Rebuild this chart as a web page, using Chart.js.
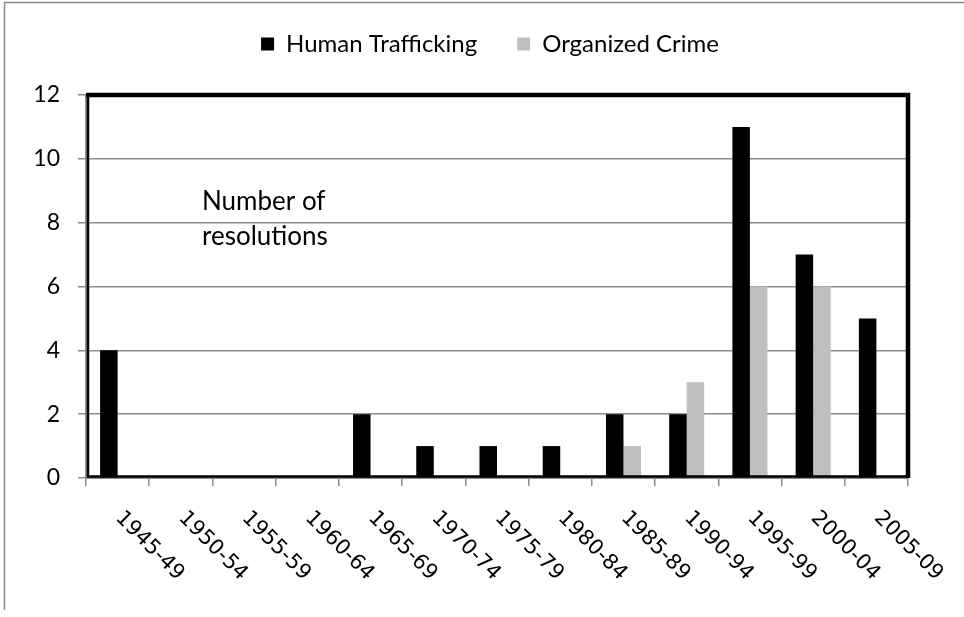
<!DOCTYPE html>
<html>
<head>
<meta charset="utf-8">
<script src="https://cdn.jsdelivr.net/npm/chart.js@4.4.1/dist/chart.umd.min.js"></script>
<style>
  html, body { margin:0; padding:0; background:#fff; }
  #wrap { width:964px; height:617px; }
</style>
</head>
<body>
<div id="wrap"><canvas id="chart" width="964" height="617"></canvas></div>
<script>
// ---- Data ----
const periods = ['1945-49','1950-54','1955-59','1960-64','1965-69','1970-74','1975-79','1980-84','1985-89','1990-94','1995-99','2000-04','2005-09'];
const humanTrafficking = [4,0,0,0,2,1,1,1,2,2,11,7,5];
const organizedCrime   = [0,0,0,0,0,0,0,0,1,3,6,6,0];
const yMin = 0, yMax = 12, yStep = 2;
const noteLines = ['Number of', 'resolutions'];

const GRID = '#8c8c8c';

// fixed legend height + nudge to the right, so it sits where the original has it
const legendPlace = {
    id:'legendPlace',
    beforeLayout(chart){
        const lg = chart.legend;
        if(!lg || lg._patched) return;
        const fit = lg.fit;
        lg.fit = function(){ fit.call(this); this.height = 103; };
        lg._patched = true;
    },
    afterLayout(chart){
        const lg = chart.legend;
        lg.left += 36; lg.right += 36;
    }
};

// frame, inner note, rotated category labels, outer border
const decor = {
    id:'decor',
    afterDraw(chart){
        const {ctx, chartArea:a, scales:{x}} = chart;
        ctx.save();

        // outer gray border (left + top)
        ctx.strokeStyle = '#8c8c8c'; ctx.lineWidth = 1.5;
        ctx.beginPath();
        ctx.moveTo(4.5, 610); ctx.lineTo(4.5, 2.5); ctx.lineTo(964, 2.5);
        ctx.stroke();

        // thick black plot frame
        ctx.strokeStyle = '#000';
        ctx.lineWidth = 4.5;
        ctx.beginPath();
        ctx.moveTo(a.left, a.top); ctx.lineTo(a.right, a.top); ctx.lineTo(a.right, a.bottom);
        ctx.stroke();
        ctx.lineWidth = 2.5;
        ctx.beginPath();
        ctx.moveTo(a.left + 2, a.top); ctx.lineTo(a.left + 2, a.bottom - 1.5); ctx.lineTo(a.right, a.bottom - 1.5);
        ctx.stroke();

        // note inside plot
        ctx.fillStyle = '#000';
        ctx.font = '26px Lato';
        ctx.textAlign = 'left'; ctx.textBaseline = 'alphabetic';
        ctx.fillText(noteLines[0], 202, 210);
        ctx.fillText(noteLines[1], 202, 245);

        // category labels, rotated down-right
        ctx.font = '21px "DejaVu Sans"';
        ctx.textBaseline = 'middle';
        periods.forEach((p, i) => {
            const px = x.getPixelForValue(i);
            ctx.save();
            ctx.translate(px + 1, a.bottom + 37);
            ctx.rotate(Math.PI / 4);
            ctx.fillText(p, 0, 0);
            ctx.restore();
        });
        ctx.restore();
    }
};

new Chart(document.getElementById('chart'), {
    type:'bar',
    data:{
        labels: periods,
        datasets:[
            {label:'Human Trafficking', data: humanTrafficking, backgroundColor:'#000000', borderWidth:0,
             categoryPercentage:0.554, barPercentage:1.0},
            {label:'Organized Crime', data: organizedCrime, backgroundColor:'#bfbfbf', borderWidth:0,
             categoryPercentage:0.554, barPercentage:1.0}
        ]
    },
    options:{
        responsive:false, animation:false, devicePixelRatio:1,
        layout:{ padding:{ left:0, right:56, top:-8, bottom:0 } },
        plugins:{
            legend:{
                position:'top', align:'center',
                labels:{ boxWidth:13, boxHeight:13, padding:40, color:'#000', font:{family:'Lato', size:24} }
            },
            tooltip:{ enabled:false }
        },
        scales:{
            x:{
                offset:true,
                grid:{ display:true, drawOnChartArea:false, offset:true, tickLength:8, color:GRID, lineWidth:1.5 },
                border:{ display:true, color:GRID, width:2 },
                ticks:{ display:false },
                afterFit: s => { s.height = 139; }
            },
            y:{
                min:yMin, max:yMax,
                grid:{ color:GRID, lineWidth:1.5, tickLength:8 },
                border:{ display:true, color:GRID, width:2 },
                ticks:{ stepSize:yStep, padding:18, color:'#000', font:{family:'Lato', size:23} },
                afterFit: s => { s.width = 86; }
            }
        }
    },
    plugins:[legendPlace, decor]
});
</script>
</body>
</html>
